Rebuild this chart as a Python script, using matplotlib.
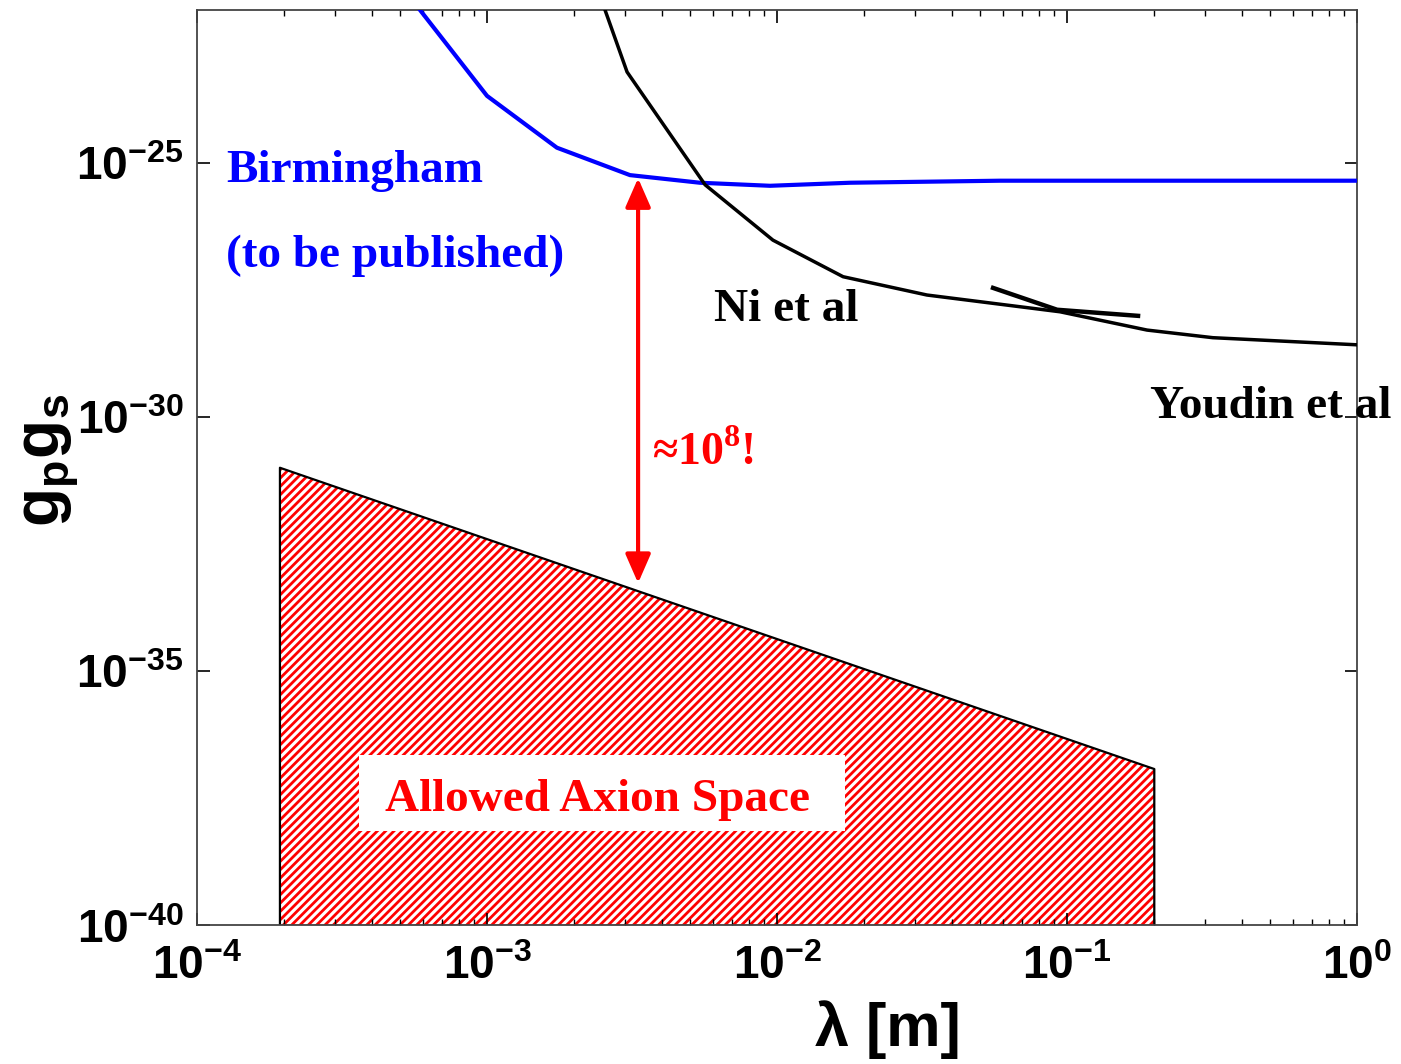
import numpy as np
import matplotlib
matplotlib.use("Agg")
import matplotlib.pyplot as plt
from matplotlib.ticker import FixedLocator, FuncFormatter, LogLocator, NullLocator
from matplotlib.patches import Rectangle

plt.rcParams['mathtext.fontset'] = 'custom'
plt.rcParams['mathtext.rm'] = 'Liberation Serif:bold'
plt.rcParams['mathtext.sf'] = 'Liberation Sans:bold'
plt.rcParams['hatch.linewidth'] = 2.0

# ---- data (log10 values) ----
birm_logx = [-3.40, -3.231, -3.0, -2.759, -2.507, -2.266, -2.024, -1.748, -1.231, 0.0]
birm_logy = [-20.8, -21.99, -23.68, -24.70, -25.24, -25.39, -25.45, -25.39, -25.35, -25.35]

ni_logx = [-2.63, -2.593, -2.517, -2.248, -2.014, -1.772, -1.483, -1.024, -0.724, -0.497, 0.0]
ni_logy = [-21.1, -21.99, -23.21, -25.43, -26.52, -27.24, -27.60, -27.93, -28.29, -28.44, -28.58]

youdin_logx = [-1.255, -1.034, -0.755]
youdin_logy = [-27.46, -27.89, -28.01]

allowed_logx = [-3.714, np.log10(0.2)]
allowed_logy_top = [-31.0, -36.93]
ylow = 1e-40

arrow_logx = -2.479
arrow_logy = [-25.30, -33.27]

xticks = [1e-4, 1e-3, 1e-2, 1e-1, 1e0]
yticks = [1e-40, 1e-35, 1e-30, 1e-25]

# ---- figure ----
fig = plt.figure(figsize=(14.01, 10.64), dpi=100)
ax = fig.add_axes([197/1401, 1-925/1064, 1160/1401, 915/1064])
ax.set_xscale('log')
ax.set_yscale('log')
ax.set_xlim(1e-4, 1e0)
ax.set_ylim(1e-40, 10**-21.99)

bx = 10**np.array(birm_logx); by = 10**np.array(birm_logy)
nx = 10**np.array(ni_logx); ny = 10**np.array(ni_logy)
yx = 10**np.array(youdin_logx); yy = 10**np.array(youdin_logy)

# allowed region
ax_x = 10**np.array(allowed_logx)
ax_top = 10**np.array(allowed_logy_top)
poly_x = [ax_x[0], ax_x[0], ax_x[1], ax_x[1]]
poly_y = [ylow, ax_top[0], ax_top[1], ylow]
ax.fill(poly_x, poly_y, facecolor='white', edgecolor='#ff0000', hatch='////', linewidth=0.5, zorder=1)
ax.plot([ax_x[0], ax_x[0], ax_x[1], ax_x[1]], [ylow, ax_top[0], ax_top[1], ylow],
        color='black', lw=1.6, zorder=2)

ax.plot(bx, by, color='#0000ff', lw=3.0, zorder=3)
ax.plot(nx, ny, color='black', lw=2.5, zorder=3)
ax.plot(yx, yy, color='black', lw=3.2, zorder=3)

# arrow
ax.annotate('', xy=(10**arrow_logx, 10**arrow_logy[1]), xytext=(10**arrow_logx, 10**arrow_logy[0]),
            arrowprops=dict(arrowstyle='<|-|>,head_length=0.8,head_width=0.35', color='#ff0000',
                            lw=3.0, shrinkA=0, shrinkB=0, mutation_scale=22), zorder=4)

# white box for label
ax.add_patch(Rectangle((162/1160, (925-831)/915), 486/1160, 76/915, transform=ax.transAxes,
                       facecolor='white', edgecolor='none', zorder=2.5))

tfont = dict(family='Liberation Serif', weight='bold', fontsize=34)
ax.text(10**-3.90, 10**-25.37, 'Birmingham', color='#0000ff', ha='left', va='baseline', **tfont)
ax.text(10**-3.90, 10**-27.05, '(to be published)', color='#0000ff', ha='left', va='baseline', **tfont)
ax.text(10**-2.217, 10**-28.11, 'Ni et al', color='black', ha='left', va='baseline', **tfont)
ax.text(10**-0.714, 10**-30.02, 'Youdin et al', color='black', ha='left', va='baseline',
        clip_on=False, **tfont)
ax.text(10**-3.352, 10**-37.76, 'Allowed Axion Space', color='#ff0000', ha='left', va='baseline',
        zorder=5, **tfont)
ax.text(10**-2.431, 10**-30.945, r'≈10$^{\mathrm{8}}$!', color='#ff0000', ha='left',
        va='baseline', family='Liberation Serif', weight='bold', fontsize=33)

# ticks
ax.xaxis.set_major_locator(FixedLocator(xticks))
ax.yaxis.set_major_locator(FixedLocator(yticks))
ax.xaxis.set_minor_locator(LogLocator(base=10, subs=np.arange(2, 10)))
ax.yaxis.set_minor_locator(NullLocator())
fmt = FuncFormatter(lambda v, p: r'$\mathsf{10^{%d}}$' % int(round(np.log10(v))))
ax.xaxis.set_major_formatter(fmt)
ax.yaxis.set_major_formatter(fmt)
ax.tick_params(which='both', direction='in', top=True, right=True, colors='black')
ax.tick_params(which='major', length=9, width=1.2, labelsize=33)
ax.tick_params(axis='x', which='major', pad=14)
ax.tick_params(axis='y', which='major', pad=10)
ax.tick_params(which='minor', length=4.5, width=1.0)
for s in ax.spines.values():
    s.set_color('#444444')
    s.set_linewidth(1.3)

fig.text(888/1401, 1-1030/1064, r'λ [m]', ha='center', va='center', fontsize=44,
         family='Liberation Sans', weight='bold')
fig.text(50/1401, 1-460/1064, r'$\mathsf{g_p g_s}$', ha='center', va='center', fontsize=46,
         rotation=90)

fig.savefig('out.png', dpi=100)
